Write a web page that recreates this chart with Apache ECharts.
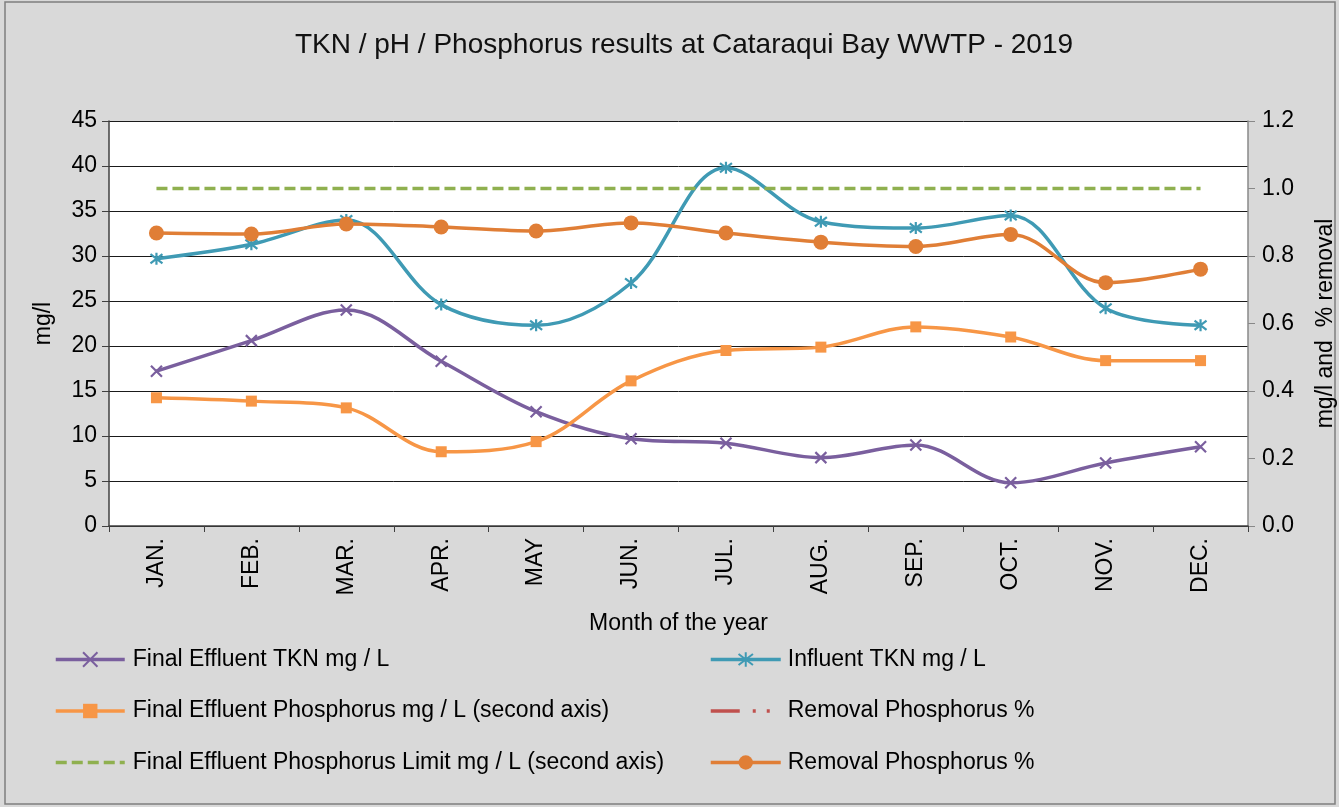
<!DOCTYPE html>
<html>
<head>
<meta charset="utf-8">
<script src="https://cdn.jsdelivr.net/npm/echarts@6/dist/echarts.min.js"></script>
<style>
  html, body { margin: 0; padding: 0; background: #d9d9d9; }
  #chart { width: 1339px; height: 807px; }
</style>
</head>
<body>
<div id="chart"></div>
<script>
// month labels
const months = ["JAN.", "FEB.", "MAR.", "APR.", "MAY", "JUN.", "JUL.", "AUG.", "SEP.", "OCT.", "NOV.", "DEC."];

// left axis (mg/l)
const effluentTKN = [17.2, 20.6, 24.0, 18.3, 12.7, 9.7, 9.2, 7.6, 9.0, 4.8, 7.0, 8.8];
const influentTKN = [29.7, 31.3, 34.0, 24.6, 22.3, 27.0, 39.8, 33.8, 33.1, 34.5, 24.2, 22.3];

// right axis (mg/l and % removal)
const effluentP = [0.38, 0.37, 0.35, 0.22, 0.25, 0.43, 0.52, 0.53, 0.59, 0.56, 0.49, 0.49];
const limitP = [1.0, 1.0, 1.0, 1.0, 1.0, 1.0, 1.0, 1.0, 1.0, 1.0, 1.0, 1.0];
const removalRed = [];
const removalP = [0.868, 0.865, 0.895, 0.886, 0.874, 0.898, 0.868, 0.841, 0.828, 0.864, 0.721, 0.761];

const font = "Liberation Sans, Arial, sans-serif";
const xMark = "path://M0,0L10,10M10,0L0,10";
const starMark = "path://M0,0L10,10M10,0L0,10M5,-1.5L5,11.5";
const txt = { fontSize: 23, color: "#000", fontFamily: font };

const chart = echarts.init(document.getElementById("chart"));

let option = {
  backgroundColor: "#d9d9d9",
  textStyle: { fontFamily: font },
  animation: false,
  title: {
    text: "TKN / pH / Phosphorus results at Cataraqui Bay WWTP - 2019",
    left: 679,
    textAlign: "center",
    top: 26,
    textStyle: { fontSize: 28, fontWeight: "normal", color: "#111", fontFamily: font },
  },
  graphic: [
    {
      type: "rect",
      shape: { x: 5, y: 2, width: 1330, height: 802 },
      style: { fill: "none", stroke: "#7f7f7f", lineWidth: 1.5 },
      silent: true,
    },
  ],
  grid: {
    left: 109, right: 91, top: 121, bottom: 281,
    outerBoundsMode: "none",
    show: true, backgroundColor: "#fff", borderWidth: 0,
  },
  legend: [
    {
      left: 49,
      top: 643,
      orient: "vertical",
      itemGap: 28.5,
      itemWidth: 69,
      itemHeight: 18,
      lineStyle: { width: 3.5 },
      textStyle: Object.assign({}, txt, { padding: [0, 0, 0, 3] }),
      data: ["Final Effluent TKN mg / L", "Final Effluent Phosphorus mg / L (second axis)", "Final Effluent Phosphorus Limit mg / L (second axis)"],
    },
    {
      left: 704,
      top: 643,
      orient: "vertical",
      itemGap: 28.5,
      itemWidth: 70,
      itemHeight: 18,
      lineStyle: { width: 3.5 },
      formatter: (name) => name.replace(" (b)", ""),
      textStyle: Object.assign({}, txt, { padding: [0, 0, 0, 2] }),
      data: ["Influent TKN mg / L", "Removal Phosphorus %", "Removal Phosphorus % (b)"],
    },
  ],
  xAxis: {
    type: "category",
    data: months,
    name: "Month of the year",
    nameLocation: "middle",
    nameGap: 86,
    nameTextStyle: txt,
    axisLine: { lineStyle: { color: "#404040", width: 1.5 } },
    axisTick: { show: true, length: 6, lineStyle: { color: "#404040" } },
    axisLabel: Object.assign({ rotate: 90, margin: 12 }, txt),
  },
  yAxis: [
    {
      type: "value",
      min: 0,
      max: 45,
      interval: 5,
      name: "mg/l",
      nameLocation: "middle",
      nameGap: 54,
      nameTextStyle: txt,
      axisLine: { show: true, lineStyle: { color: "#404040", width: 1.5 } },
      axisTick: { show: true, length: 7, lineStyle: { color: "#404040" } },
      axisLabel: Object.assign({ margin: 12 }, txt),
      splitLine: { lineStyle: { color: "#1a1a1a", width: 1 } },
    },
    {
      type: "value",
      min: 0,
      max: 1.2,
      interval: 0.2,
      name: "mg/l and  % removal",
      nameLocation: "middle",
      nameGap: 66,
      nameTextStyle: txt,
      axisLine: { show: true, lineStyle: { color: "#888", width: 1.5 } },
      axisTick: { show: true, length: 7, lineStyle: { color: "#888" } },
      axisLabel: Object.assign({ margin: 14, formatter: (v) => v.toFixed(1) }, txt),
      splitLine: { show: false },
    },
  ],
  series: [
    {
      name: "Final Effluent TKN mg / L",
      type: "line",
      yAxisIndex: 0,
      data: effluentTKN,
      smooth: 0.35,
      symbol: xMark,
      symbolSize: 11,
      lineStyle: { color: "#7a5f9e", width: 3.5 },
      itemStyle: { color: "#7a5f9e", borderColor: "#7a5f9e", borderWidth: 2.2 },
    },
    {
      name: "Influent TKN mg / L",
      type: "line",
      yAxisIndex: 0,
      data: influentTKN,
      smooth: 0.35,
      symbol: starMark,
      symbolSize: 12,
      lineStyle: { color: "#3f9ab4", width: 3.5 },
      itemStyle: { color: "#3f9ab4", borderColor: "#3f9ab4", borderWidth: 2.2 },
    },
    {
      name: "Final Effluent Phosphorus mg / L (second axis)",
      type: "line",
      yAxisIndex: 1,
      data: effluentP,
      smooth: 0.35,
      symbol: "rect",
      symbolSize: 11,
      lineStyle: { color: "#f79646", width: 3.5 },
      itemStyle: { color: "#f79646" },
    },
    {
      name: "Removal Phosphorus %",
      type: "line",
      yAxisIndex: 1,
      data: removalRed,
      symbol: "none",
      lineStyle: { color: "#c0504d", width: 3.5, type: [29, 13, 3, 11, 3, 11] },
      itemStyle: { color: "rgba(0,0,0,0)" },
    },
    {
      name: "Final Effluent Phosphorus Limit mg / L (second axis)",
      type: "line",
      yAxisIndex: 1,
      data: limitP,
      symbol: "none",
      lineStyle: { color: "#8fb04f", width: 3.5, type: [11, 5] },
      itemStyle: { color: "rgba(0,0,0,0)" },
    },
    {
      name: "Removal Phosphorus % (b)",
      type: "line",
      yAxisIndex: 1,
      data: removalP,
      smooth: 0.35,
      symbol: "circle",
      symbolSize: 15,
      lineStyle: { color: "#e07e36", width: 3.5 },
      itemStyle: { color: "#e07e36" },
    },
  ],
};

chart.setOption(option);
</script>
</body>
</html>
